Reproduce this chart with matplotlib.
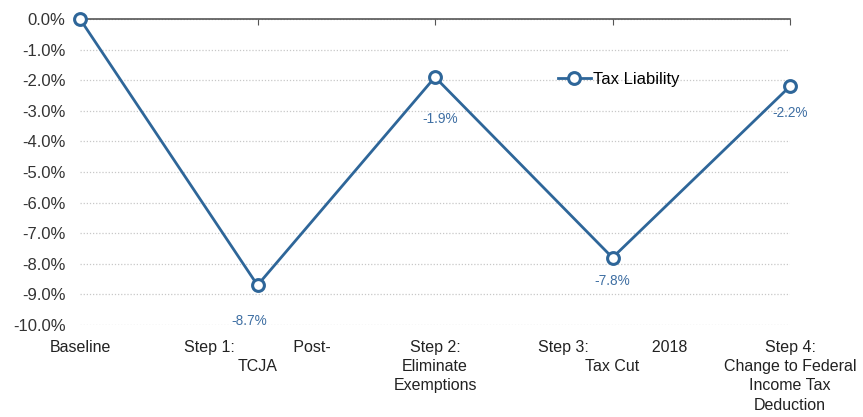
import matplotlib
matplotlib.use("Agg")
import matplotlib.pyplot as plt
from matplotlib.ticker import FuncFormatter

plt.rcParams['font.family'] = ['Liberation Sans', 'DejaVu Sans']

categories = [
    "Baseline",
    "Step 1:             Post-\nTCJA",
    "Step 2:\nEliminate\nExemptions",
    "Step 3:              2018\nTax Cut",
    "Step 4:\nChange to Federal\nIncome Tax\nDeduction",
]
tax_liability = [0.0, -8.7, -1.9, -7.8, -2.2]
value_labels = ["", "-8.7%", "-1.9%", "-7.8%", "-2.2%"]
label_offsets = [(0, 0), (-6, -26), (4, -30), (0, -17), (0, -19)]

line_color = "#2e6699"
label_color = "#3f6fa3"

fig = plt.figure(figsize=(8.63, 4.17), dpi=100)
ax = fig.add_axes([80 / 863, 1 - 325 / 417, 710 / 863, 306 / 417])

x = list(range(len(categories)))
ax.plot(x, tax_liability, color=line_color, lw=2.0, marker='o', markersize=8.5,
        markerfacecolor='white', markeredgewidth=2.2, markeredgecolor=line_color,
        clip_on=False, zorder=5, label="Tax Liability")

for xi, v, txt, off in zip(x, tax_liability, value_labels, label_offsets):
    if txt:
        ax.annotate(txt, (xi, v), xytext=off, textcoords='offset points',
                    ha='center', va='center', fontsize=9.8, color=label_color)

ax.set_xlim(0, len(categories) - 1)
ax.set_ylim(-10, 0)
ax.set_yticks([-i for i in range(11)])
ax.yaxis.set_major_formatter(FuncFormatter(lambda v, _: f"{v:.1f}%" if v != 0 else "0.0%"))
ax.grid(axis='y', color='#c8c8c8', linestyle=(0, (1, 1.5)), lw=0.9)
ax.set_axisbelow(True)

for s in ['left', 'right', 'bottom']:
    ax.spines[s].set_visible(False)
ax.spines['top'].set_color('#555555')
ax.spines['top'].set_linewidth(1.2)

ax.set_xticks(x)
ax.set_xticklabels(categories, fontsize=11.5, color='#222222', linespacing=1.34, va='top')
ax.tick_params(axis='x', bottom=False, top=True, direction='in', length=4,
               color='#555555', labelbottom=True, pad=11)
ax.tick_params(axis='y', left=False, labelsize=12, labelcolor='#333333', pad=7)

leg = ax.legend(loc='upper left', bbox_to_anchor=(0.661, 0.855), frameon=False,
                fontsize=12, handlelength=2.0, handletextpad=0.1, borderpad=0)

fig.savefig("out.png", dpi=100, facecolor='white')
